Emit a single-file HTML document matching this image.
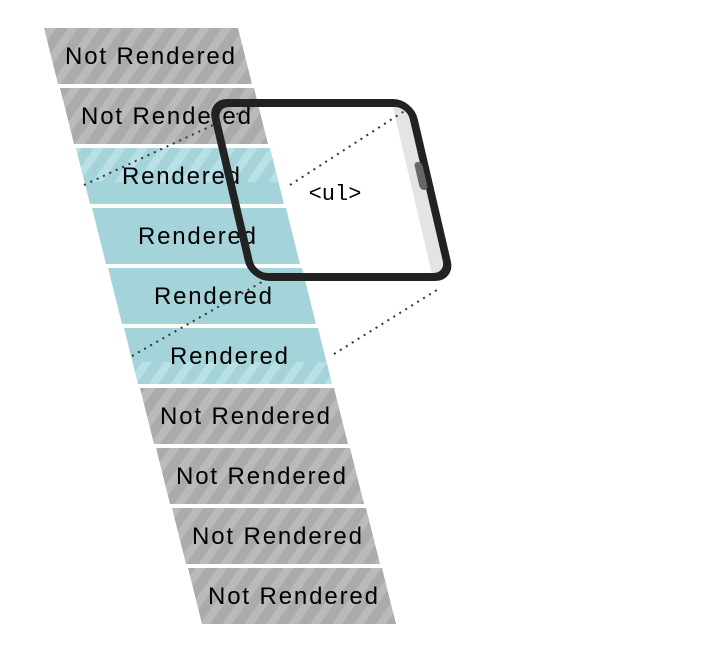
<!DOCTYPE html>
<html><head><meta charset="utf-8"><style>html,body{margin:0;padding:0;background:#fff}svg{display:block}</style></head>
<body>
<svg width="724" height="660" viewBox="0 0 724 660" xmlns="http://www.w3.org/2000/svg">
<defs>
<pattern id="gs" width="18" height="18" patternUnits="userSpaceOnUse" patternTransform="rotate(35)">
<rect width="18" height="18" fill="#ababab"/><rect width="8" height="18" fill="#bababa"/>
</pattern>
<pattern id="ts" width="18" height="18" patternUnits="userSpaceOnUse" patternTransform="rotate(35)">
<rect width="18" height="18" fill="#a5d3da"/><rect width="8" height="18" fill="#b9e0e4"/>
</pattern>
</defs>
<g font-family="Liberation Sans, sans-serif" font-size="24" text-anchor="middle">
<!-- rows -->
<polygon points="44,28 238,28 252,84 58,84" fill="url(#gs)"/>
<polygon points="60,88 254,88 268,144 74,144" fill="url(#gs)"/>
<polygon points="76,148 270,148 284,204 90,204" fill="#a5d3da"/>
<polygon points="76,148 270,148 278.5,182 84.5,182" fill="url(#ts)"/>
<polygon points="92,208 286,208 300,264 106,264" fill="#a5d3da"/>
<polygon points="108,268 302,268 316,324 122,324" fill="#a5d3da"/>
<polygon points="124,328 318,328 332,384 138,384" fill="#a5d3da"/>
<polygon points="132.5,362 326.5,362 332,384 138,384" fill="url(#ts)"/>
<polygon points="140,388 334,388 348,444 154,444" fill="url(#gs)"/>
<polygon points="156,448 350,448 364,504 170,504" fill="url(#gs)"/>
<polygon points="172,508 366,508 380,564 186,564" fill="url(#gs)"/>
<polygon points="188,568 382,568 396,624 202,624" fill="url(#gs)"/>
<text x="150" y="64" textLength="170">Not Rendered</text>
<text x="166" y="124" textLength="170">Not Rendered</text>
<text x="181" y="184" textLength="118">Rendered</text>
<text x="197" y="244" textLength="118">Rendered</text>
<text x="213" y="304" textLength="118">Rendered</text>
<text x="229" y="364" textLength="118">Rendered</text>
<text x="245" y="424" textLength="170">Not Rendered</text>
<text x="261" y="484" textLength="170">Not Rendered</text>
<text x="277" y="544" textLength="170">Not Rendered</text>
<text x="293" y="604" textLength="170">Not Rendered</text>
</g>
<!-- phone -->
<g transform="matrix(1,0,0.233,1,0,0)">
<rect x="190" y="102" width="198" height="176" rx="16" fill="#fff" fill-opacity="0.0"/>
<path d="M368,104 L372,104 Q384,104 384,116 L384,264 Q384,276 372,276 L368,276 Z" fill="#e4e4e4"/>
<rect x="188" y="103" width="198" height="174" rx="16" fill="none" stroke="#222" stroke-width="8"/>
<rect x="376" y="162" width="8" height="28" rx="4" fill="#666"/>
</g>
<g stroke="#333" stroke-width="2" stroke-dasharray="2,5" fill="none">
<line x1="84" y1="185" x2="250" y2="108"/>
<line x1="290" y1="185" x2="406" y2="110"/>
<line x1="132" y1="356" x2="262" y2="282"/>
<line x1="334" y1="354" x2="440" y2="288"/>
</g>
<text x="335" y="200" font-family="Liberation Mono, monospace" font-size="22" text-anchor="middle" fill="#000">&lt;ul&gt;</text>
</svg>
</body></html>
